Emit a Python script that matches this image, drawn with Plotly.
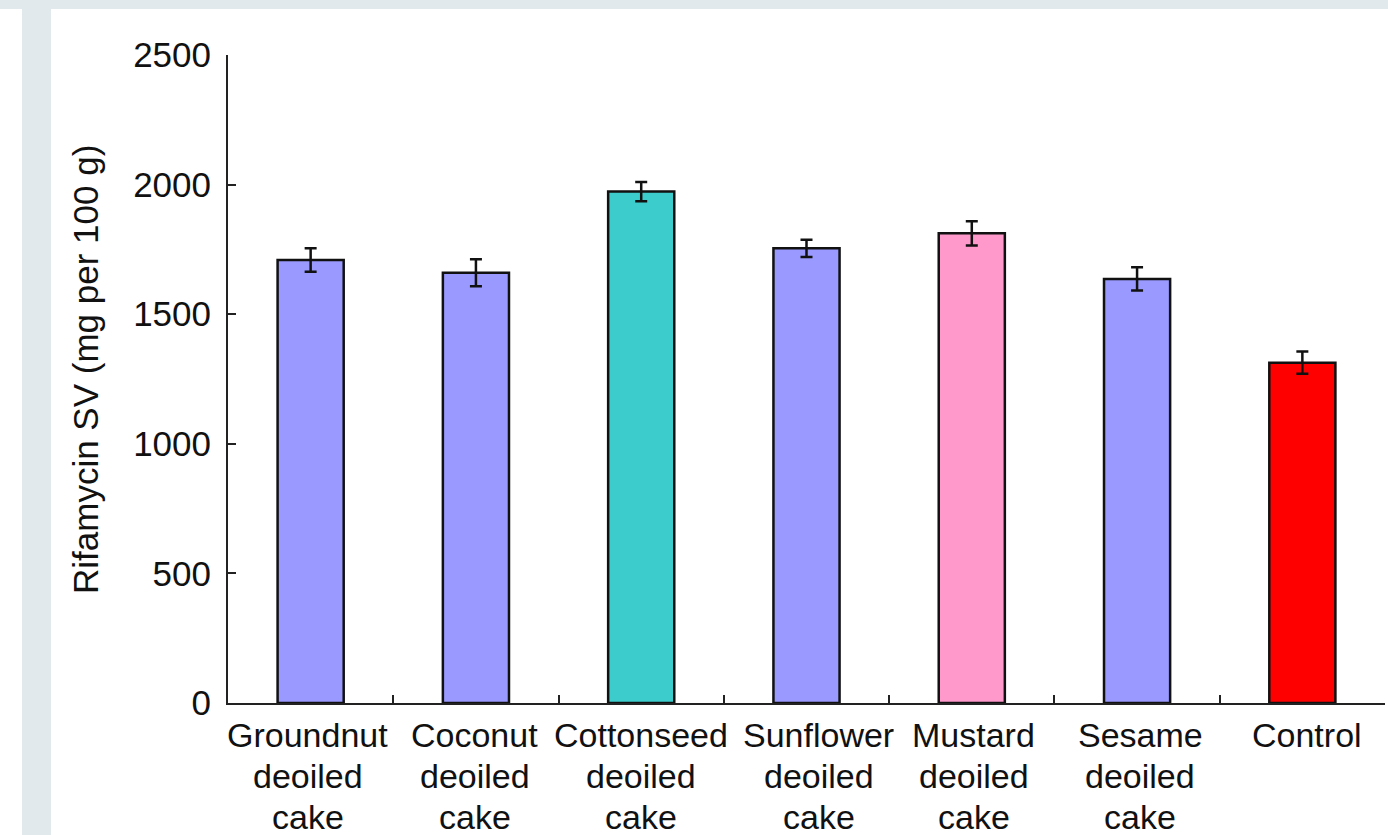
import plotly.graph_objects as go

categories = ["Groundnut<br>deoiled<br>cake", "Coconut<br>deoiled<br>cake", "Cottonseed<br>deoiled<br>cake",
              "Sunflower<br>deoiled<br>cake", "Mustard<br>deoiled<br>cake", "Sesame<br>deoiled<br>cake", "Control"]
values = [1709, 1660, 1973, 1754, 1812, 1636, 1313]
errors = [45, 52, 37, 33, 47, 45, 43]
colors = ["#9999ff", "#9999ff", "#3ccccc", "#9999ff", "#ff99cc", "#9999ff", "#ff0000"]
y_ticks = [0, 500, 1000, 1500, 2000, 2500]
y_title = "Rifamycin SV (mg per 100 g)"

W, H = 1388, 835
L, R, T, B = 228, 3, 55, 132
pw, ph = W - L - R, H - T - B

def px(x):
    return (x - L) / pw

def py(y):
    return (H - B - y) / ph

FONT = "Liberation Sans, Arial, Helvetica, sans-serif"
GRAY = "#e1e9ec"
INK = "#111111"
XFS = 34
LINE_CENTERS = [735, 776, 817]          # pixel centres of the label lines
LABEL_SHIFTS = [-3, -1, 0, 12, 2, 3, 5]  # horizontal nudges of the category labels (px)

fig = go.Figure()
fig.add_trace(go.Bar(
    x=list(range(len(categories))), y=values, width=0.4,
    marker=dict(color=colors, line=dict(color=INK, width=2.5)),
    error_y=dict(type="data", array=errors, color=INK, thickness=2.5, width=6),
))
fig.add_trace(go.Scatter(x=[0], y=[0], xaxis="x2", mode="markers", marker=dict(opacity=0),
                         hoverinfo="skip", showlegend=False))

shapes = [
    dict(type="rect", xref="paper", yref="paper", x0=px(0), x1=px(W), y0=py(0), y1=py(H),
         fillcolor=GRAY, line=dict(width=0), layer="below"),
    dict(type="rect", xref="paper", yref="paper", x0=px(0), x1=px(22), y0=py(9), y1=py(H),
         fillcolor="white", line=dict(width=0), layer="below"),
    dict(type="rect", xref="paper", yref="paper", x0=px(51), x1=px(W), y0=py(9), y1=py(H),
         fillcolor="white", line=dict(width=0), layer="below"),
]

annotations = [dict(
    text=y_title, textangle=-90, xref="paper", yref="paper",
    x=px(85), y=py(370), xanchor="center", yanchor="middle", showarrow=False,
    font=dict(family=FONT, size=35, color=INK),
)]
for i, cat in enumerate(categories):
    for k, line in enumerate(cat.split("<br>")):
        annotations.append(dict(
            text=line, xref="x", yref="paper", x=i, y=py(LINE_CENTERS[k]),
            xshift=LABEL_SHIFTS[i],
            xanchor="center", yanchor="middle", showarrow=False,
            font=dict(family=FONT, size=XFS, color=INK),
        ))

fig.update_layout(
    width=W, height=H, autosize=False,
    margin=dict(l=L, r=R, t=T, b=B, pad=0),
    paper_bgcolor="white", plot_bgcolor="white",
    showlegend=False,
    shapes=shapes,
    font=dict(family=FONT, size=33, color=INK),
    annotations=annotations,
)
fig.update_xaxes(
    range=[-0.5, len(categories) - 0.5],
    tickmode="array", tickvals=list(range(len(categories))), showticklabels=False,
    ticks="", showline=True, linecolor="#222222", linewidth=2, showgrid=False, zeroline=False,
)
fig.update_layout(xaxis2=dict(
    overlaying="x", range=[-0.5, len(categories) - 0.5], tickmode="array",
    tickvals=[i + 0.5 for i in range(len(categories))], showticklabels=False,
    ticks="inside", ticklen=8, tickwidth=2, tickcolor="#222222", showgrid=False,
    showline=False, zeroline=False, side="bottom", anchor="y",
))
fig.update_yaxes(
    range=[0, 2500], tickmode="array", tickvals=y_ticks, ticktext=[str(v) for v in y_ticks],
    ticks="inside", ticklen=8, tickwidth=2, tickcolor="#222222",
    showline=True, linecolor="#222222", linewidth=2, showgrid=False, zeroline=False,
    tickfont=dict(size=35, family=FONT, color=INK), ticklabelstandoff=8,
)

fig.write_html(
    "out.html",
    config={"displayModeBar": False, "responsive": False},
    post_script="document.documentElement.style.overflow='hidden';"
                "document.body.style.overflow='hidden';document.body.style.margin='0';",
)
